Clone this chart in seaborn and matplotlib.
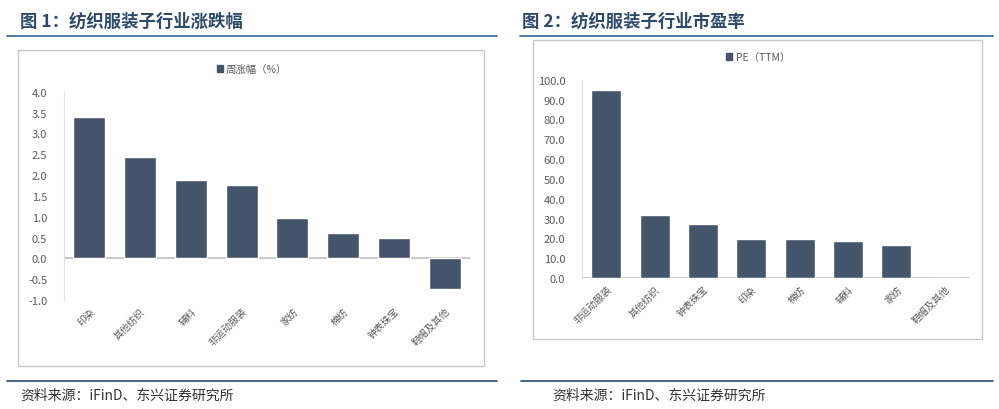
import matplotlib
matplotlib.use("Agg")
import matplotlib.pyplot as plt
import seaborn as sns
from matplotlib.patches import Patch, Rectangle
from matplotlib.lines import Line2D

# data
chg_cats = ["印染", "其他纺织", "辅料", "非运动服装", "家纺", "棉纺", "钟表珠宝", "鞋帽及其他"]
chg_vals = [3.40, 2.44, 1.88, 1.75, 0.97, 0.61, 0.49, -0.74]
chg_ticks = [-1.0, -0.5, 0.0, 0.5, 1.0, 1.5, 2.0, 2.5, 3.0, 3.5, 4.0]

pe_cats = ["非运动服装", "其他纺织", "钟表珠宝", "印染", "棉纺", "辅料", "家纺", "鞋帽及其他"]
pe_vals = [95.0, 31.9, 27.1, 19.5, 19.5, 18.5, 16.5, 0.0]
pe_ticks = [0, 10, 20, 30, 40, 50, 60, 70, 80, 90, 100]

bar_color = "#44546A"
axis_grey = "#BFBFBF"
text_grey = "#595959"
title_color = "#2E4A6B"
rule_color = "#3F6E9A"

sns.set_style("white")
plt.rcParams["font.family"] = ["Noto Sans CJK SC", "DejaVu Sans"]
plt.rcParams["axes.unicode_minus"] = True

W, H = 999, 410
fig = plt.figure(figsize=(W / 100, H / 100), dpi=100)


def px_axes(x0, x1, ytop, ybot):
    return fig.add_axes([x0 / W, 1 - ybot / H, (x1 - x0) / W, (ybot - ytop) / H])


def frame(x0, x1, ytop, ybot):
    fig.add_artist(Rectangle((x0 / W, 1 - ybot / H), (x1 - x0) / W, (ybot - ytop) / H,
                             transform=fig.transFigure, fill=False, edgecolor="#C8C8C8", lw=1))


def hline(x0, x1, y, color, lw):
    fig.add_artist(Line2D([x0 / W, x1 / W], [1 - y / H, 1 - y / H],
                          transform=fig.transFigure, color=color, lw=lw))


def style_axes(ax, cats, ticks, fmt):
    ax.set_yticks(ticks)
    ax.set_yticklabels([fmt % t for t in ticks], fontsize=8, color=text_grey)
    ax.set_xticks(range(len(cats)))
    ax.set_xticklabels(cats, rotation=45, ha="right", rotation_mode="anchor",
                       fontsize=7, color=text_grey)
    ax.set_xlabel("")
    ax.set_ylabel("")
    for s in ["top", "right", "bottom"]:
        ax.spines[s].set_visible(False)
    ax.spines["left"].set_color("#E0E0E0")
    ax.tick_params(axis="y", length=2, color="#E0E0E0", pad=10)
    ax.tick_params(axis="x", length=0, pad=4)
    ax.axhline(0, color=axis_grey, lw=1.2, zorder=0.5)
    ax.set_xlim(-0.5, len(cats) - 0.5)
    ax.patch.set_alpha(0)


# ---- panel 1 ----
fig.text(20 / W, 1 - 22 / H, "图 1：纺织服装子行业涨跌幅", fontsize=12.5, fontweight="bold",
         color=title_color, va="center")
hline(7, 497, 37, rule_color, 1.3)
frame(18, 484, 51, 367)
ax1 = px_axes(64, 470, 92.7, 301)
sns.barplot(x=chg_cats, y=chg_vals, color=bar_color, width=0.63, saturation=1, ax=ax1)
ax1.set_ylim(-1.0, 4.0)
style_axes(ax1, chg_cats, chg_ticks, "%.1f")
ax1.legend(handles=[Patch(color=bar_color, label="周涨幅（%）")], loc="center",
           bbox_to_anchor=(252 / W, 1 - 70 / H), bbox_transform=fig.transFigure,
           frameon=False, fontsize=7.5, handlelength=0.6, handleheight=0.6,
           handletextpad=0.3, labelcolor=text_grey)
hline(7, 497, 381.7, "#1F4E79", 1.2)
fig.text(20 / W, 1 - 396 / H, "资料来源：iFinD、东兴证券研究所", fontsize=10, style="italic",
         color="#333333", va="center")

# ---- panel 2 ----
fig.text(522 / W, 1 - 22 / H, "图 2：纺织服装子行业市盈率", fontsize=12.5, fontweight="bold",
         color=title_color, va="center")
hline(520, 993, 37, rule_color, 1.3)
frame(533, 982, 41, 340)
ax2 = px_axes(582, 969, 80.7, 279)
sns.barplot(x=pe_cats, y=pe_vals, color=bar_color, width=0.62, saturation=1, ax=ax2)
ax2.set_ylim(0, 100)
style_axes(ax2, pe_cats, pe_ticks, "%.1f")
ax2.legend(handles=[Patch(color=bar_color, label="PE（TTM）")], loc="center",
           bbox_to_anchor=(758 / W, 1 - 58 / H), bbox_transform=fig.transFigure,
           frameon=False, fontsize=7.5, handlelength=0.6, handleheight=0.6,
           handletextpad=0.3, labelcolor=text_grey)
hline(521, 993, 381.7, "#1F4E79", 1.2)
fig.text(552 / W, 1 - 396 / H, "资料来源：iFinD、东兴证券研究所", fontsize=10, style="italic",
         color="#333333", va="center")

fig.savefig("out.png", dpi=100)
